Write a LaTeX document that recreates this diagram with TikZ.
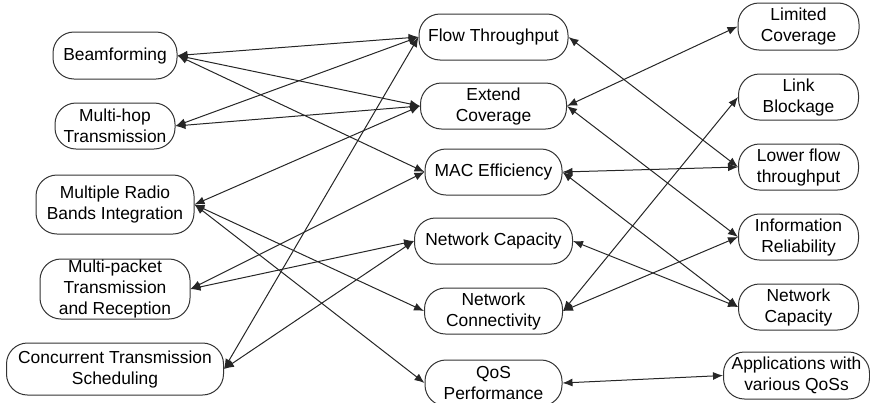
\documentclass[tikz,border=0pt]{standalone}
\usepackage{fontspec}
\setmainfont{Liberation Sans}
\usetikzlibrary{positioning, arrows.meta}

\begin{document}
\begin{tikzpicture}[ x = 0.5pt, y = -0.5pt
                     , node distance = 11.5pt
                     , font = \fontsize{8.7}{10.5}\selectfont
                     , >={Latex[width=4pt, length=5pt]}
                     , every node/.style = { rectangle
                                         , rounded corners = 10.5pt
                                         , draw = black!80
                                         , line width = 0.5pt
                                         , align = center
                                         , inner sep = 0pt
                                         , minimum height = 23pt }
                     ]
  \useasboundingbox (0,0) rectangle (870,402);

  % techniques
  \node (beam) at (115,55.5) [minimum width = 62pt, minimum height = 23.5pt] {Beamforming};
  \node (multihop) [below = of beam, minimum width = 60pt] {Multi-hop\\Transmission};
  \node (radio) [below = 12.5pt of multihop, minimum width = 79pt, minimum height = 29.5pt] {Multiple Radio\\Bands Integration};
  \node (packet) [below = 12pt of radio, minimum width = 75pt, minimum height = 30pt] {Multi-packet\\Transmission\\and Reception};
  \node (concur) [below = of packet, minimum width = 108.5pt, minimum height = 26pt] {Concurrent Transmission\\Scheduling};

  % goals
  \node (flow) at (493.5,37) [minimum width = 74.5pt] {Flow Throughput};
  \node (cover) [below = 11pt of flow, minimum width = 73pt] {Extend\\Coverage};
  \node (mac) [below = 9.5pt of cover, minimum width = 68.5pt] {MAC Efficiency};
  \node (capacity) [below = 11pt of mac, minimum width = 79pt] {Network Capacity};
  \node (connect) [below = of capacity, minimum width = 69pt] {Network\\Connectivity};
  \node (qos) [below = 12.5pt of connect, minimum width = 68.5pt] {QoS\\Performance};

  % challenges
  \node (limited) at (798.5,26.5) [minimum width = 60.5pt, minimum height = 23.5pt] {Limited\\Coverage};
  \node (blockage) [below = of limited, minimum width = 60pt] {Link\\Blockage};
  \node (lowflow) [below = of blockage, minimum width = 60pt] {Lower flow\\throughput};
  \node (reliable) [below = of lowflow, minimum width = 60pt] {Information\\Reliability};
  \node (netcap) [below = of reliable, minimum width = 60pt] {Network\\Capacity};
  \node (apps) [below = 10.5pt of netcap, xshift = -1pt, minimum width = 73pt, minimum height = 23.5pt] {Applications with\\various QoSs};

  \tikzset{every edge/.style={draw = black!85, line width = 0.5pt}}

  \path[<->] (beam.east) edge (flow.west) edge (cover.west) edge (mac.west);
  \path[<->] (multihop.east) edge (flow.west) edge (cover.west);
  \path[<->] (radio.east) edge (cover.west) edge (connect.west) edge (qos.west);
  \path[<->] (packet.east) edge (mac.west) edge (capacity.west);
  \path[<->] (concur.east) edge (flow.west) edge (capacity.west);

  \path[<->] (flow.east) edge (lowflow.west);
  \path[<->] (cover.east) edge (limited.west) edge (reliable.west);
  \path[<->] (mac.east) edge (lowflow.west) edge (netcap.west);
  \path[<->] (capacity.east) edge (netcap.west);
  \path[<->] (connect.east) edge (blockage.west) edge (reliable.west);
  \path[<->] (qos.east) edge (apps.west);

\end{tikzpicture}
\end{document}
